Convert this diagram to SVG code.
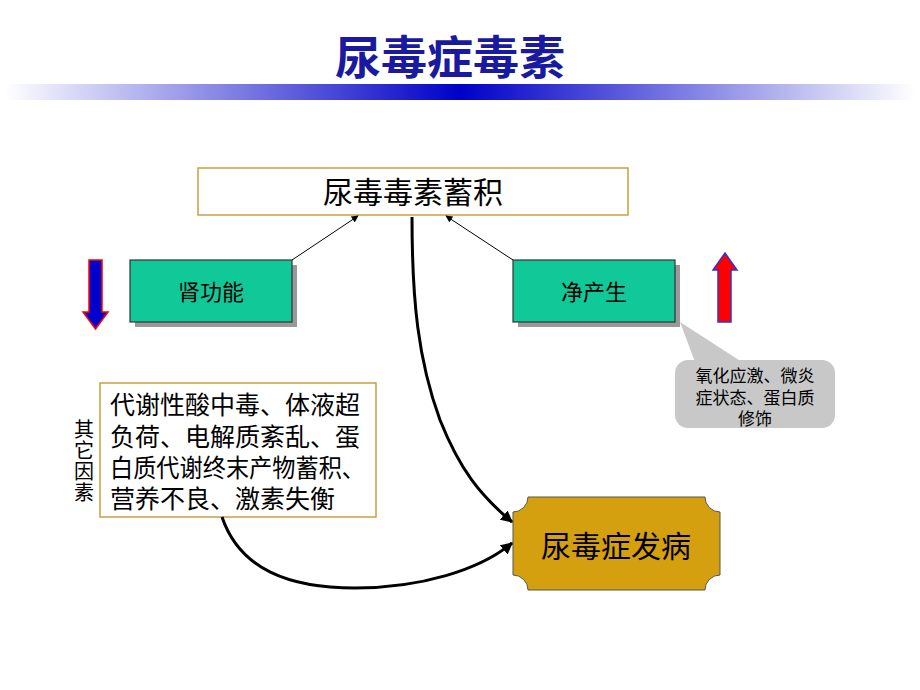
<svg xmlns="http://www.w3.org/2000/svg" width="920" height="690" viewBox="0 0 920 690">
<defs>
<linearGradient id="bar" x1="0" y1="0" x2="1" y2="0">
<stop offset="0" stop-color="#ffffff"/>
<stop offset="0.5" stop-color="#0000c8"/>
<stop offset="1" stop-color="#ffffff"/>
</linearGradient>
<marker id="ah" viewBox="0 0 10 10" refX="9" refY="5" markerWidth="7" markerHeight="7" orient="auto-start-reverse" markerUnits="userSpaceOnUse">
<path d="M0,0 L10,5 L0,10 z" fill="#000"/>
</marker>
<marker id="ahb" viewBox="0 0 10 10" refX="9" refY="5" markerWidth="12" markerHeight="12" orient="auto" markerUnits="userSpaceOnUse">
<path d="M0,0 L10,5 L0,10 z" fill="#000"/>
</marker>
</defs>
<style>
.cjk{font-family:"Noto Sans CJK SC","Noto Sans CJK TC",sans-serif;fill:#000}
.box{fill:#fff;stroke:#c8a040;stroke-width:1.5}
.green{fill:#10c898;stroke:#333;stroke-width:1.2}
.shadow{fill:#999}
.thin{fill:none;stroke:#000;stroke-width:1}
.thick{fill:none;stroke:#000;stroke-width:3}
</style>
<rect width="920" height="690" fill="#fff"/>
<g id="title">
<text x="450" y="74" text-anchor="middle" font-size="46" font-weight="bold" class="cjk" style="fill:#1a1aa0">尿毒症毒素</text>
<rect x="5" y="84" width="910" height="16" fill="url(#bar)"/>
</g>
<g id="accum">
<rect x="198" y="168" width="430" height="47" class="box"/>
<text x="413" y="203" text-anchor="middle" font-size="30" class="cjk">尿毒毒素蓄积</text>
</g>
<g id="kidney">
<rect x="135" y="265" width="162" height="62" class="shadow"/>
<rect x="130" y="260" width="162" height="62" class="green"/>
<text x="211" y="300" text-anchor="middle" font-size="22" class="cjk">肾功能</text>
</g>
<g id="netprod">
<rect x="518" y="265" width="162" height="62" class="shadow"/>
<rect x="513" y="260" width="162" height="62" class="green"/>
<text x="594" y="300" text-anchor="middle" font-size="22" class="cjk">净产生</text>
</g>
<g id="down-arrow">
<path d="M89,260 L102,260 L102,312 L108,312 L95.5,329 L83,312 L89,312 z" fill="#0000cc" stroke="#ff0000" stroke-width="1.5"/>
</g>
<g id="up-arrow">
<path d="M718,322 L731,322 L731,270 L737,270 L725,253 L713,270 L718,270 z" fill="#ff0000" stroke="#3333cc" stroke-width="1.5"/>
</g>
<g id="callout">
<path d="M680,322 L742,362 L695,362 z" fill="#c8c8c8"/>
<rect x="675" y="360" width="160" height="68" rx="13" fill="#c8c8c8"/>
<text x="755" y="382" text-anchor="middle" font-size="17" class="cjk">氧化应激、微炎</text>
<text x="755" y="404" text-anchor="middle" font-size="17" class="cjk">症状态、蛋白质</text>
<text x="755" y="425" text-anchor="middle" font-size="17" class="cjk">修饰</text>
</g>
<g id="other">
<rect x="100" y="383" width="276" height="134" class="box"/>
<text font-size="25" class="cjk">
<tspan x="110" y="414">代谢性酸中毒、体液超</tspan>
<tspan x="110" y="446">负荷、电解质紊乱、蛋</tspan>
<tspan x="110" y="477" textLength="255" lengthAdjust="spacingAndGlyphs">白质代谢终末产物蓄积、</tspan>
<tspan x="110" y="508">营养不良、激素失衡</tspan>
</text>
<text x="84" y="419" font-size="20" class="cjk" style="writing-mode:vertical-rl;letter-spacing:1px">其它因素</text>
</g>
<g id="onset">
<path d="M528,497 L705,497 A15,15 0 0 0 720,512 L720,575 A15,15 0 0 0 705,590 L528,590 A15,15 0 0 0 513,575 L513,512 A15,15 0 0 0 528,497 z" fill="#d4a010" stroke="#555" stroke-width="1"/>
<text x="616" y="557" text-anchor="middle" font-size="30" class="cjk">尿毒症发病</text>
</g>
<g id="connectors">
<line x1="292" y1="260" x2="358" y2="216" class="thin" marker-end="url(#ah)"/>
<line x1="513" y1="260" x2="446" y2="216" class="thin" marker-end="url(#ah)"/>
<path d="M412,217 C412,300 418,360 440,420 C460,470 480,495 512,522" class="thick" marker-end="url(#ahb)"/>
<path d="M222,517 C240,570 290,588 355,588 C420,588 480,570 512,543" class="thick" marker-end="url(#ahb)"/>
</g>
</svg>
